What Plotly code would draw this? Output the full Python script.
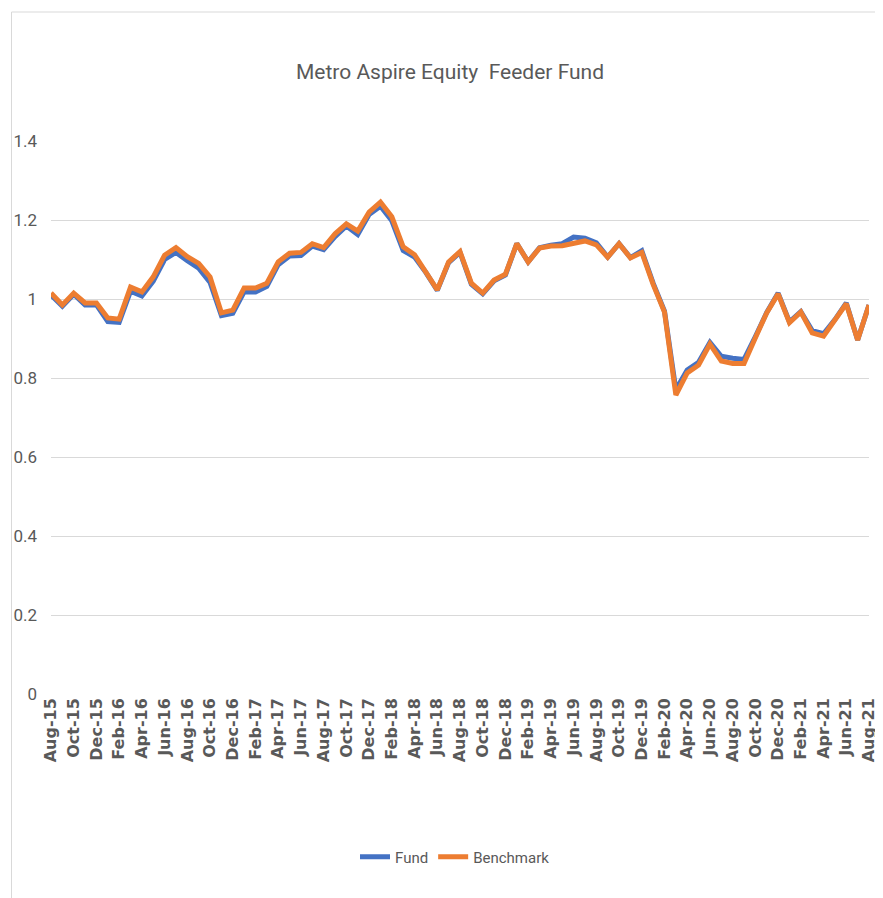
import plotly.graph_objects as go

months = [
    "Aug-15","Sep-15","Oct-15","Nov-15","Dec-15",
    "Jan-16","Feb-16","Mar-16","Apr-16","May-16","Jun-16","Jul-16","Aug-16","Sep-16","Oct-16","Nov-16","Dec-16",
    "Jan-17","Feb-17","Mar-17","Apr-17","May-17","Jun-17","Jul-17","Aug-17","Sep-17","Oct-17","Nov-17","Dec-17",
    "Jan-18","Feb-18","Mar-18","Apr-18","May-18","Jun-18","Jul-18","Aug-18","Sep-18","Oct-18","Nov-18","Dec-18",
    "Jan-19","Feb-19","Mar-19","Apr-19","May-19","Jun-19","Jul-19","Aug-19","Sep-19","Oct-19","Nov-19","Dec-19",
    "Jan-20","Feb-20","Mar-20","Apr-20","May-20","Jun-20","Jul-20","Aug-20","Sep-20","Oct-20","Nov-20","Dec-20",
    "Jan-21","Feb-21","Mar-21","Apr-21","May-21","Jun-21","Jul-21","Aug-21",
]

fund = [
    1.010, 0.982, 1.012, 0.985, 0.985,
    0.943, 0.941, 1.020, 1.008, 1.045, 1.100, 1.118, 1.097, 1.078, 1.042, 0.958, 0.964,
    1.018, 1.018, 1.032, 1.087, 1.109, 1.110, 1.134, 1.125, 1.158, 1.185, 1.163, 1.214,
    1.235, 1.198, 1.123, 1.106, 1.067, 1.022, 1.092, 1.118, 1.037, 1.013, 1.046, 1.061,
    1.140, 1.094, 1.130, 1.136, 1.140, 1.157, 1.154, 1.142, 1.106, 1.140, 1.105, 1.122,
    1.040, 0.969, 0.770, 0.820, 0.840, 0.890, 0.855, 0.850, 0.847, 0.905, 0.966, 1.015,
    0.942, 0.968, 0.920, 0.912, 0.948, 0.990, 0.896, 0.985,
]

benchmark = [
    1.015, 0.985, 1.015, 0.990, 0.990,
    0.952, 0.949, 1.030, 1.018, 1.056, 1.111, 1.130, 1.107, 1.090, 1.056, 0.965, 0.972,
    1.028, 1.028, 1.040, 1.094, 1.116, 1.118, 1.140, 1.130, 1.165, 1.190, 1.172, 1.220,
    1.245, 1.208, 1.132, 1.112, 1.069, 1.023, 1.094, 1.120, 1.040, 1.015, 1.048, 1.063,
    1.140, 1.094, 1.129, 1.134, 1.135, 1.140, 1.147, 1.137, 1.106, 1.140, 1.104, 1.118,
    1.037, 0.967, 0.757, 0.813, 0.833, 0.886, 0.843, 0.837, 0.837, 0.902, 0.965, 1.013,
    0.940, 0.967, 0.914, 0.906, 0.945, 0.988, 0.896, 0.985,
]

y_ticks = [0, 0.2, 0.4, 0.6, 0.8, 1, 1.2, 1.4]
y_tick_text = ["0", "0.2", "0.4", "0.6", "0.8", "1", "1.2", "1.4"]
x_tick_labels = months[::2]

TXT = "#595959"
NARROW = "Liberation Sans Narrow, Roboto, sans-serif"

W, H = 875, 890  # page has an 8px body margin
fig = go.Figure()
fig.add_trace(go.Scatter(x=months, y=fund, name="Fund", mode="lines",
                         line=dict(color="#4472C4", width=5)))
fig.add_trace(go.Scatter(x=months, y=benchmark, name="Benchmark", mode="lines",
                         line=dict(color="#ED7D31", width=5)))

fig.update_layout(
    width=W, height=H,
    margin=dict(l=41, r=5, t=133, b=204),
    paper_bgcolor="white", plot_bgcolor="white",
    title=dict(text="Metro Aspire Equity\u00a0 Feeder Fund", x=(450 - 8) / W, xanchor="center",
               y=1 - 64 / H, yanchor="middle",
               font=dict(family=NARROW, size=21, color=TXT)),
    legend=dict(orientation="h", xref="container", yref="container",
                x=(455 - 8) / W, xanchor="center", y=1 - 849 / H, yanchor="middle",
                font=dict(family=NARROW, size=15, color=TXT), itemwidth=30),
    showlegend=True,
)

fig.update_xaxes(
    type="category", range=[0, len(months) - 1],
    tickmode="array", tickvals=x_tick_labels, ticktext=x_tick_labels,
    tickangle=-90, tickfont=dict(family="DejaVu Sans, sans-serif", size=16, color=TXT, weight="bold"),
    showgrid=False, zeroline=False, showline=False, ticks="", ticklen=0,
)
fig.update_yaxes(
    range=[0, 1.4], tickmode="array", tickvals=y_ticks, ticktext=y_tick_text,
    tickfont=dict(family=NARROW, size=17, color=TXT),
    showgrid=True, gridcolor="#D9D9D9", gridwidth=1.3, zeroline=False, showline=False,
    ticks="", ticklabelstandoff=13,
)

pw, ph = W - 41 - 5, H - 133 - 204
fig.add_shape(type="rect", xref="paper", yref="paper",
              x0=(1 - 41) / pw, x1=(W + 2 - 41) / pw,
              y0=(686 - (H + 2)) / ph, y1=(686 - 4) / ph,
              line=dict(color="#D9D9D9", width=1), fillcolor="rgba(0,0,0,0)", layer="below")

fig.write_html("out.html")
